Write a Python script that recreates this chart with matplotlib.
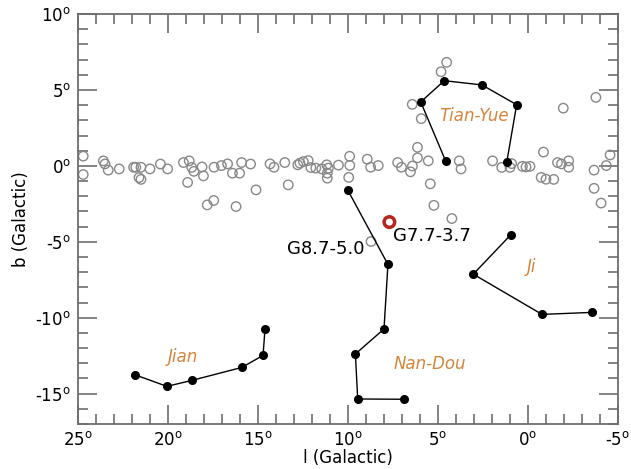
"""
Galactic plane map around G7.7-3.7: background sources (open circles)
and the Chinese asterisms Tian-Yue, Ji, Jian and Nan-Dou.
"""

import matplotlib
matplotlib.use("Agg")
import matplotlib.pyplot as plt
from matplotlib.ticker import MultipleLocator, FuncFormatter

plt.rcParams['font.family'] = ['DejaVu Sans']

# background sources (l, b) in degrees
src_l = [24.71, 24.71, 23.59, 23.50, 23.32, 22.71, 21.91, 21.79, 21.50, 21.61,
         21.50, 21.00, 20.42, 20.02, 19.14, 18.82, 18.68, 18.56, 18.91, 18.11,
         18.03, 17.82, 17.46, 17.44, 17.03, 16.69, 16.42, 16.02, 16.22, 15.91,
         15.41, 15.11, 14.33, 14.11, 13.51, 13.32, 12.79, 12.67, 12.48, 12.21,
         12.06, 11.79, 11.46, 11.18, 11.09, 11.15, 11.15, 10.53, 9.91, 9.90,
         9.96, 8.93, 8.74, 8.32, 7.24, 7.03, 6.42, 6.53, 6.14, 6.14,
         5.54, 3.82, 3.72, 5.43, 5.23, 4.23, 8.72, 6.43, 5.93, 4.83,
         4.52, 1.97, 1.46, 1.00, 0.91, 0.31, 0.11, -0.11, -0.86, -0.73,
         -1.00, -1.43, -1.64, -1.86, -2.26, -2.26, -1.96, -3.77, -3.67, -3.67,
         -4.06, -4.35, -4.56]
src_b = [0.64, -0.57, 0.33, 0.13, -0.28, -0.20, -0.09, -0.09, -0.09, -0.77,
         -0.89, -0.20, 0.12, -0.20, 0.22, 0.33, -0.10, -0.36, -1.09, -0.07,
         -0.66, -2.57, -2.28, -0.09, 0.02, 0.13, -0.48, -0.48, -2.68, 0.22,
         0.12, -1.58, 0.13, -0.09, 0.22, -1.25, 0.07, 0.18, 0.28, 0.35,
         -0.11, -0.15, -0.20, 0.07, -0.15, -0.48, -0.81, 0.05, 0.63, 0.03,
         -0.76, 0.44, -0.09, 0.02, 0.22, -0.09, -0.01, -0.39, 1.22, 0.53,
         0.33, 0.33, -0.20, -1.18, -2.60, -3.47, -4.98, 4.05, 3.11, 6.20,
         6.82, 0.33, -0.10, -0.10, 0.15, -0.03, -0.07, -0.03, 0.91, -0.76,
         -0.88, -0.89, 0.22, 0.13, 0.33, -0.09, 3.80, 4.51, -0.28, -1.48,
         -2.45, 0.02, 0.72]

# asterisms
tianyue_l = [4.57, 5.96, 4.65, 2.56, 0.63, 1.18]
tianyue_b = [0.31, 4.21, 5.61, 5.33, 4.03, 0.24]

nandou_l = [10.02, 7.78, 8.00, 9.59, 9.46, 6.87]
nandou_b = [-1.58, -6.49, -10.74, -12.39, -15.35, -15.37]

ji_l = [0.94, 3.04, -0.78, -3.54]
ji_b = [-4.52, -7.13, -9.78, -9.65]

jian_l = [21.85, 20.06, 18.65, 15.89, 14.72, 14.61]
jian_b = [-13.75, -14.52, -14.12, -13.27, -12.48, -10.74]

# the remnant
snr_l = [7.7]
snr_b = [-3.7]

asterism_names = ["Tian-Yue", "Ji", "Jian", "Nan-Dou"]
asterism_pos = [(3.0, 3.3), (-0.22, -6.64), (19.17, -12.57), (5.44, -13.05)]

label_color = '#d5853b'
axis_color = '#6e6e6e'


def deg_fmt(v, pos):
    return "%d$^\\mathrm{o}$" % int(round(v))


fig = plt.figure(figsize=(6.31, 4.69), dpi=100)
ax = fig.add_axes([0.1236, 0.0959, 0.8558, 0.8742])

ax.scatter(src_l, src_b, s=46, facecolors='none', edgecolors='#888888',
           linewidths=1.0, zorder=2)

for ll, bb in [(tianyue_l, tianyue_b), (nandou_l, nandou_b),
               (ji_l, ji_b), (jian_l, jian_b)]:
    ax.plot(ll, bb, color='black', lw=1.0, marker='o', markersize=5.5, zorder=3)

ax.scatter(snr_l, snr_b, s=58, facecolors='none', edgecolors='#b8261e',
           linewidths=2.5, zorder=4)

ax.text(9.06, -5.5, "G8.7-5.0", fontsize=13, ha='right', va='center')
ax.text(7.5, -4.65, "G7.7-3.7", fontsize=13, ha='left', va='center')

for name, (xx, yy) in zip(asterism_names, asterism_pos):
    ax.text(xx, yy, name, fontsize=12, style='italic', color=label_color,
            ha='center', va='center')

# axes
ax.set_xlim(25, -5)
ax.set_ylim(-17, 10)
ax.xaxis.set_major_locator(MultipleLocator(5))
ax.xaxis.set_minor_locator(MultipleLocator(1))
ax.yaxis.set_major_locator(MultipleLocator(5))
ax.yaxis.set_minor_locator(MultipleLocator(1))
ax.xaxis.set_major_formatter(FuncFormatter(deg_fmt))
ax.yaxis.set_major_formatter(FuncFormatter(deg_fmt))
ax.tick_params(which='both', direction='in', top=True, right=True,
               color=axis_color, width=1.2, labelsize=12)
ax.tick_params(which='major', length=14, pad=5)
ax.tick_params(which='minor', length=7)
for sp in ax.spines.values():
    sp.set_color(axis_color)
    sp.set_linewidth(1.3)

ax.set_xlabel("l (Galactic)", fontsize=12, labelpad=0)
ax.set_ylabel("b (Galactic)", fontsize=12, labelpad=4)

fig.savefig("out.png", dpi=100)
